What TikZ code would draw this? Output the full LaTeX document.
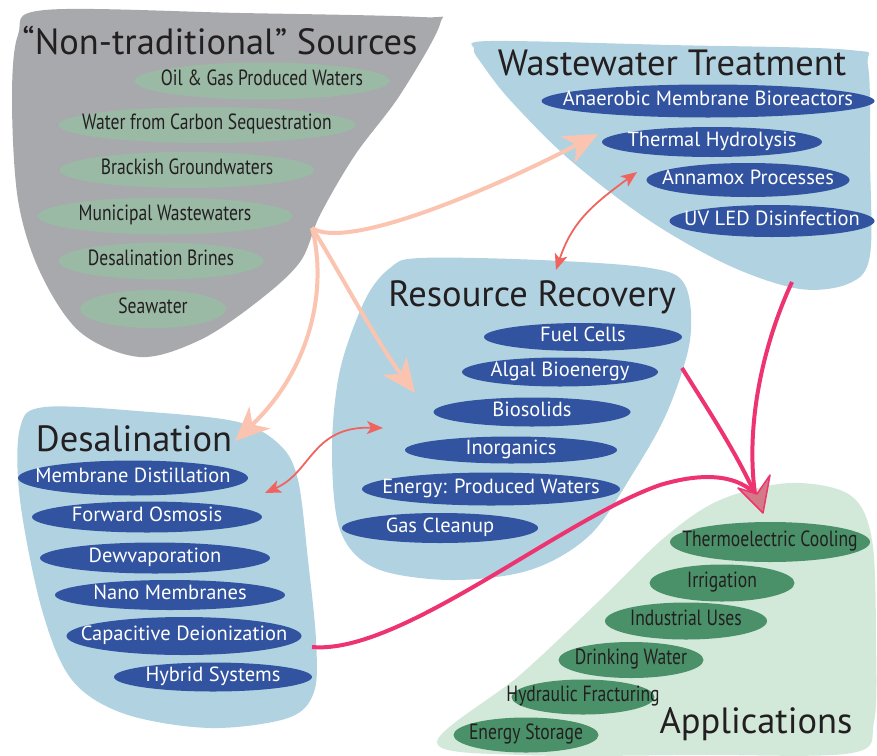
\documentclass[tikz,border=0pt]{standalone}
\usepackage{fontspec}
\setmainfont{PT Sans}
\newfontfamily\condfont[FakeStretch=0.8]{PT Sans}
\usetikzlibrary{shapes.geometric,arrows.meta}
\definecolor{graybg}{RGB}{167,169,172}
\definecolor{bluebg}{RGB}{177,211,225}
\definecolor{greenbg}{RGB}{210,233,217}
\definecolor{dblue}{RGB}{50,84,160}
\definecolor{sage}{RGB}{155,186,166}
\definecolor{dgreen}{RGB}{74,145,106}
\definecolor{titlec}{RGB}{35,31,32}
\definecolor{peach}{RGB}{250,196,176}
\definecolor{coral}{RGB}{240,100,96}
\definecolor{pinkc}{RGB}{238,52,112}
\definecolor{headfill}{RGB}{212,122,135}
\newcommand{\E}[1]{\makebox[0pt]{#1}}
\begin{document}
\begin{tikzpicture}[x=1pt,y=-1pt,
  ell/.style={ellipse, inner sep=0pt, text height=0.85em, text depth=0pt},
  bell/.style={ell, fill=dblue, text=white, font=\fontsize{20.5}{22}\selectfont},
  sell/.style={ell, fill=sage, text=titlec, font=\condfont\fontsize{22}{22}\selectfont},
  gell/.style={ell, fill=dgreen, text=titlec, font=\condfont\fontsize{22}{22}\selectfont},
  ttl/.style={anchor=base, inner sep=0pt, text=titlec, font=\fontsize{36.5}{40}\selectfont},
  peacharrow/.style={draw=peach, line width=4pt, -{Stealth[length=34pt,width=30pt,inset=10pt]}},
  coralarrow/.style={draw=coral, line width=1.8pt, {Stealth[length=16pt,width=13pt,inset=4pt]}-{Stealth[length=16pt,width=13pt,inset=4pt]}},
  pinkline/.style={draw=pinkc, line width=4pt},
]
\useasboundingbox (0,0) rectangle (877,755);

% blobs
\fill[graybg] plot[smooth cycle, tension=0.55] coordinates {(45,10) (240,13) (420,17) (440,24) (400,95) (355,155) (320,215) (300,262) (257,302) (200,340) (140,357) (80,332) (40,272) (18,200) (12,100) (18,35)};
\fill[bluebg] plot[smooth cycle, tension=0.55] coordinates {(490,41) (670,45) (850,50) (868,66) (870,160) (870,255) (850,283) (800,289) (730,266) (650,221) (570,160) (510,100) (482,64) (474,49)};
\fill[bluebg] plot[smooth cycle, tension=0.55] coordinates {(420,258) (540,260) (650,268) (685,285) (690,340) (668,410) (635,470) (590,535) (530,570) (450,580) (375,568) (340,530) (332,450) (340,370) (365,300) (390,268)};
\fill[bluebg] plot[smooth cycle, tension=0.55] coordinates {(45,407) (150,412) (238,422) (280,445) (298,480) (308,560) (316,640) (314,692) (288,718) (210,728) (125,714) (72,680) (42,610) (20,500) (20,428)};
\fill[greenbg] plot[smooth cycle, tension=0.55] coordinates {(437,742) (520,675) (600,600) (665,537) (720,500) (790,483) (850,495) (872,540) (876,640) (874,722) (852,753) (700,755) (520,755)};

% titles
\node[ttl] (tsrc) at (220,54) {“Non-traditional” Sources};
\node[ttl] (tww) at (672,75) {Wastewater Treatment};
\node[ttl] (trr) at (532,306) {Resource Recovery};
\node[ttl] (tds) at (134,451) {Desalination};
\node[ttl] (tap) at (756,733) {Applications};

% sources
\node[sell, minimum width=255pt, minimum height=37pt] (s1) at (262,81) {\E{Oil \& Gas Produced Waters}};
\node[sell, minimum width=297pt, minimum height=36pt] (s2) at (207,125) {\E{Water from Carbon Sequestration}};
\node[sell, minimum width=255pt, minimum height=36pt] (s3) at (187,170) {\E{Brackish Groundwaters}};
\node[sell, minimum width=255pt, minimum height=37pt] (s4) at (165,216) {\E{Municipal Wastewaters}};
\node[sell, minimum width=205pt, minimum height=37pt] (s5) at (161,261) {\E{Desalination Brines}};
\node[sell, minimum width=146pt, minimum height=38pt] (s6) at (153,309) {\E{Seawater}};

% wastewater
\node[bell, minimum width=333pt, minimum height=33pt] (w1) at (708,101) {\E{Anaerobic Membrane Bioreactors}};
\node[bell, minimum width=220pt, minimum height=30pt] (w2) at (712,142) {\E{Thermal Hydrolysis}};
\node[bell, minimum width=203pt, minimum height=34pt] (w3) at (748,180) {\E{Annamox Processes}};
\node[bell, minimum width=205pt, minimum height=32pt] (w4) at (772,221) {\E{UV LED Disinfection}};

% resource recovery
\node[bell, minimum width=198pt, minimum height=28pt] (r1) at (583,337) {\E{Fuel Cells}};
\node[bell, minimum width=196pt, minimum height=29pt] (r2) at (560,372) {\E{Algal Bioenergy}};
\node[bell, minimum width=197pt, minimum height=29pt] (r3) at (532,412) {\E{Biosolids}};
\node[bell, minimum width=212pt, minimum height=27pt] (r4) at (511,450) {\E{Inorganics}};
\node[bell, minimum width=258pt, minimum height=33pt] (r5) at (491,489) {\E{Energy: Produced Waters}};
\node[bell, minimum width=196pt, minimum height=30pt] (r6) at (440,528) {\E{Gas Cleanup}};

% desalination
\node[bell, minimum width=230pt, minimum height=35pt] (d1) at (133,478) {\E{Membrane Distillation}};
\node[bell, minimum width=230pt, minimum height=31pt] (d2) at (147,517) {\E{Forward Osmosis}};
\node[bell, minimum width=230pt, minimum height=31pt] (d3) at (155,558) {\E{Dewvaporation}};
\node[bell, minimum width=230pt, minimum height=30pt] (d4) at (170,595) {\E{Nano Membranes}};
\node[bell, minimum width=235pt, minimum height=38pt] (d5) at (184,636) {\E{Capacitive Deionization}};
\node[bell, minimum width=198pt, minimum height=29pt] (d6) at (213,677) {\E{Hybrid Systems}};

% applications
\node[gell, minimum width=200pt, minimum height=40pt] (a1) at (770,542) {\E{Thermoelectric Cooling}};
\node[gell, minimum width=145pt, minimum height=37pt] (a2) at (722,583) {\E{Irrigation}};
\node[gell, minimum width=162pt, minimum height=37pt] (a3) at (686,621) {\E{Industrial Uses}};
\node[gell, minimum width=145pt, minimum height=36pt] (a4) at (631,660) {\E{Drinking Water}};
\node[gell, minimum width=143pt, minimum height=35pt] (a5) at (583,697) {\E{Hydraulic Fracturing}};
\node[gell, minimum width=145pt, minimum height=35pt] (a6) at (526,735) {\E{Energy Storage}};

% connector end points
\coordinate (src) at (312,228);
\coordinate (wwin) at (598,134);
\coordinate (rrin) at (415,393);
\coordinate (dsin) at (235,441);
\coordinate (wwc) at (637,172);
\coordinate (rrc) at (556,270);
\coordinate (rrc2) at (383,428);
\coordinate (dsc) at (265,493);
\coordinate (wwout) at (792,282);
\coordinate (rrout) at (682,368);
\coordinate (dsout) at (312,647);
\coordinate (aphead) at (755,494);
\coordinate (hl) at (738,488);
\coordinate (hr) at (770,475);
\coordinate (htip) at (763,513);
\coordinate (hn) at (757,494);

% peach arrows
\draw[peacharrow] (src) .. controls (345,250) and (480,195) .. (wwin);
\draw[peacharrow] (src) .. controls (332,258) and (375,340) .. (rrin);
\draw[peacharrow] (src) .. controls (328,290) and (310,370) .. (dsin);

% coral double arrows
\draw[coralarrow] (rrc) .. controls (572,222) and (592,205) .. (wwc);
\draw[coralarrow] (dsc) .. controls (312,472) and (312,426) .. (rrc2);

% pink arrows to applications
\draw[pinkline] (wwout) .. controls (765,340) and (745,420) .. (aphead);
\draw[pinkline] (rrout) .. controls (705,405) and (735,450) .. (aphead);
\draw[pinkline] (dsout) .. controls (400,655) and (560,520) .. (660,485) .. controls (710,470) and (740,478) .. (aphead);
\filldraw[draw=pinkc, fill=headfill, line width=1.5pt, line join=round] (hn) -- (hl) -- (htip) -- (hr) -- cycle;
\end{tikzpicture}
\end{document}
